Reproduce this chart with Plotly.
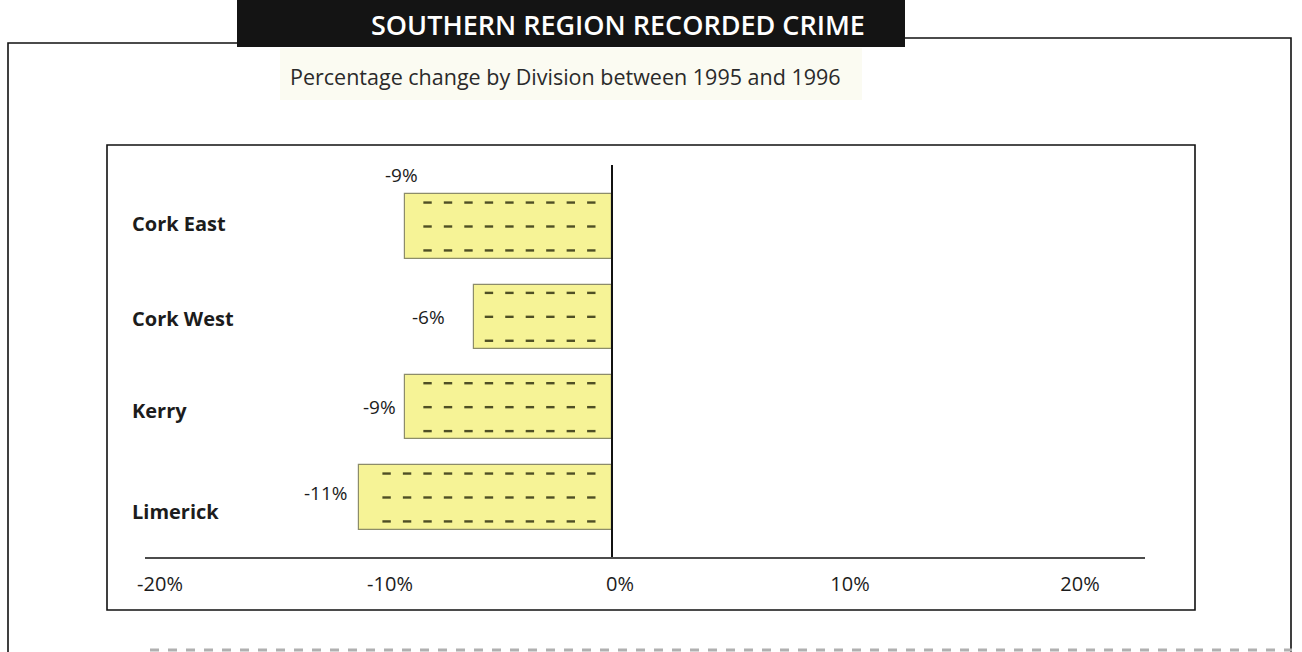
import numpy as np
import plotly.graph_objects as go

# ---------------- data ----------------
categories = ["Cork East", "Cork West", "Kerry", "Limerick"]
pct_change = [-9, -6, -9, -11]
value_text = ["-9%", "-6%", "-9%", "-11%"]
tick_values = [-20, -10, 0, 10, 20]
tick_labels = ["-20%", "-10%", "0%", "10%", "20%"]
title_text = "SOUTHERN REGION RECORDED CRIME"
subtitle_text = "Percentage change by Division between 1995 and 1996"

# ---------------- style ----------------
W, H = 1302, 652
FONT = "Open Sans"
BAR_FILL = "#f6f396"
BAR_EDGE = "#8c8c6a"
DASH_COL = "#4f4f25"
TXT = "#1c1c1c"

# value label placement (anchor, xshift px, yshift px)
label_style = [("center", -4, 51), ("right", -27, 0), ("right", -7, 0), ("right", -9, 4)]
cat_label_yshift = [3, -2, -3, -14]


def px(xp):
    return xp / W


def py(yp):
    return 1 - yp / H


ypos = np.arange(len(categories))

fig = go.Figure()
fig.add_trace(go.Bar(
    x=pct_change, y=ypos, orientation="h", width=0.71,
    marker=dict(color=BAR_FILL, line=dict(color=BAR_EDGE, width=1.2)),
    hoverinfo="skip", showlegend=False,
))

# dashed hatch inside bars, derived from bar values
step, right_margin, left_margin = 0.89, 0.9, 0.5
dx, dy = [], []
for i, v in enumerate(pct_change):
    n = int((abs(v) - right_margin - left_margin) // step) + 1
    xs = [-right_margin - k * step for k in range(n)]
    for off in (-0.265, 0.0, 0.265):
        dx.extend(xs)
        dy.extend([i + off] * n)
fig.add_trace(go.Scatter(
    x=dx, y=dy, mode="markers",
    marker=dict(symbol="line-ew", size=6, line=dict(color=DASH_COL, width=2.4)),
    hoverinfo="skip", showlegend=False,
))

annotations = []
# category labels
for i, c in enumerate(categories):
    annotations.append(dict(
        x=px(130), xref="paper", xanchor="left", y=i, yref="y", yanchor="middle",
        yshift=cat_label_yshift[i], text=c, showarrow=False,
        font=dict(family=FONT, size=20, color=TXT, weight="bold"),
    ))
# value labels
for i, (v, t) in enumerate(zip(pct_change, value_text)):
    anc, xs_, ys_ = label_style[i]
    annotations.append(dict(
        x=v, xref="x", xanchor=anc, xshift=xs_, y=i, yref="y", yanchor="middle",
        yshift=ys_, text=t, showarrow=False,
        font=dict(family=FONT, size=19, color=TXT),
    ))
# title & subtitle
annotations.append(dict(
    x=px(618), y=py(24), xref="paper", yref="paper", xanchor="center", yanchor="middle",
    text=title_text, showarrow=False,
    font=dict(family=FONT, size=27, color="white", weight=600),
))
annotations.append(dict(
    x=px(565), y=py(77), xref="paper", yref="paper", xanchor="center", yanchor="middle",
    text=subtitle_text, showarrow=False,
    font=dict(family=FONT, size=21.5, color="#2a2a2a"),
))

shapes = [
    # subtitle background
    dict(type="rect", xref="paper", yref="paper", x0=px(280), x1=px(862), y0=py(100), y1=py(48),
         fillcolor="#fbfbf2", line=dict(width=0), layer="below"),
    # outer frame
    dict(type="path", xref="paper", yref="paper",
         path=f"M {px(8)},{py(652)} L {px(8)},{py(43)} L {px(240)},{py(43)}",
         line=dict(color="#111", width=1.6)),
    dict(type="path", xref="paper", yref="paper",
         path=f"M {px(900)},{py(38)} L {px(1291)},{py(38)} L {px(1291)},{py(652)}",
         line=dict(color="#111", width=1.6)),
    # title box
    dict(type="rect", xref="paper", yref="paper", x0=px(237), x1=px(905), y0=py(47), y1=py(0),
         fillcolor="#141414", line=dict(width=0)),
    # inner box
    dict(type="rect", xref="paper", yref="paper", x0=px(107), x1=px(1195), y0=py(610), y1=py(145),
         line=dict(color="#111", width=1.6)),
    # axis line
    dict(type="line", xref="paper", yref="paper", x0=px(145), x1=px(1145), y0=py(558), y1=py(558),
         line=dict(color="#111", width=1.6)),
    # zero line
    dict(type="line", xref="x", yref="paper", x0=0, x1=0, y0=py(557), y1=py(165),
         line=dict(color="#111", width=2)),
    # faint dashed edge at bottom
    dict(type="line", xref="paper", yref="paper", x0=px(150), x1=px(1292), y0=py(650), y1=py(650),
         line=dict(color="#b0b0b0", width=3, dash="dash")),
]

zero_px, scale = 612, 23.0
x_range = [(107 - zero_px) / scale, (1195 - zero_px) / scale]
c0, spacing = 226.5, 90.33
y_range = [(557 - c0) / spacing, (145 - c0) / spacing]

fig.update_layout(
    width=W, height=H, margin=dict(l=0, r=0, t=0, b=0),
    paper_bgcolor="white", plot_bgcolor="rgba(0,0,0,0)",
    xaxis=dict(domain=[px(107), px(1195)], range=x_range, tickvals=tick_values, ticktext=tick_labels,
               showgrid=False, zeroline=False, showline=False, ticks="",
               ticklabelshift=8, ticklabelstandoff=13,
               tickfont=dict(family=FONT, size=20, color=TXT), fixedrange=True),
    yaxis=dict(domain=[py(557), py(145)], range=y_range, showgrid=False, zeroline=False,
               showline=False, showticklabels=False, ticks="", fixedrange=True),
    annotations=annotations, shapes=shapes, bargap=0,
)

fig.write_html("out.html", config={"displayModeBar": False},
               post_script="document.body.style.margin='0';document.body.style.overflow='hidden';")
